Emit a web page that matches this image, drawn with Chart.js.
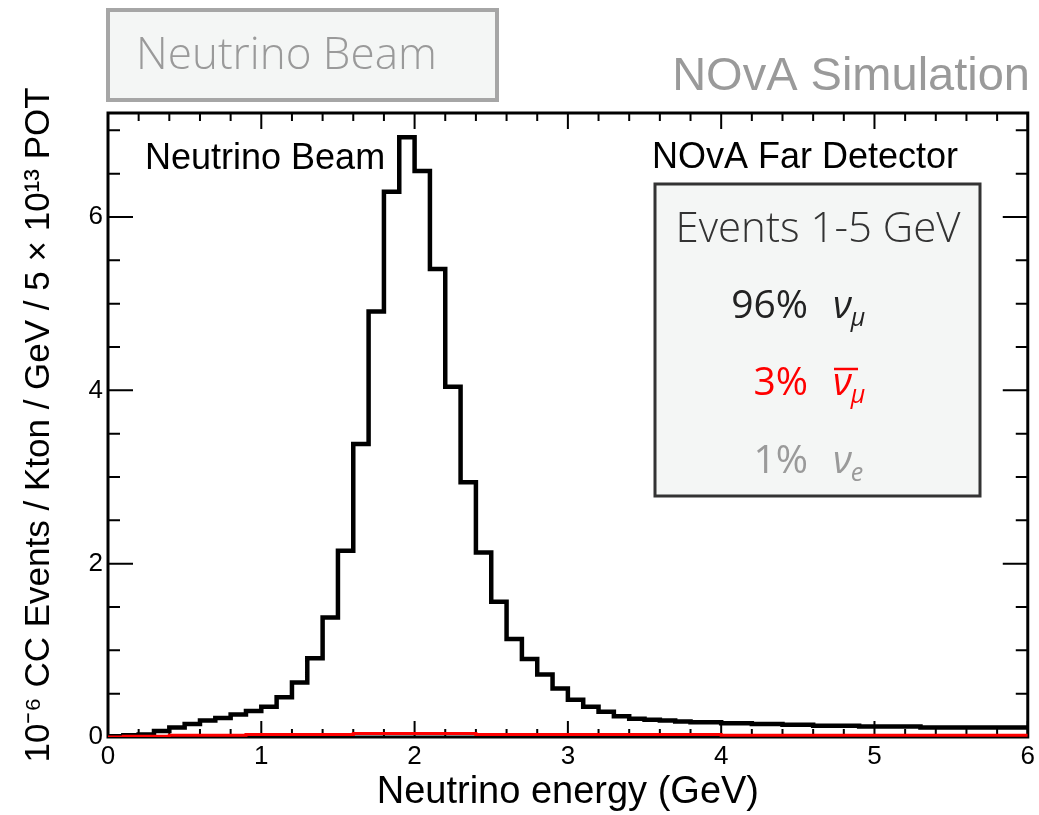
<!DOCTYPE html>
<html lang="en">
<head>
  <meta charset="UTF-8">
  <title>NOvA Far Detector - Neutrino Beam</title>
  <script src="https://cdn.jsdelivr.net/npm/chart.js"></script>
  <style>
    body { margin: 0; padding: 0; background: #fff; }
    #wrap { width: 1039px; height: 815px; }
  </style>
</head>
<body>
  <div id="wrap"><canvas id="beamChart" width="1039" height="815"></canvas></div>

  <script>
    // histogram bins: 0.1 GeV wide, starting at 0 GeV
    const binWidth = 0.1;
    const numuCC = [
      0.01, 0.02, 0.03, 0.07, 0.11, 0.15, 0.19, 0.22, 0.26, 0.30,
      0.35, 0.46, 0.63, 0.91, 1.38, 2.15, 3.38, 4.91, 6.29, 6.92,
      6.53, 5.40, 4.04, 2.94, 2.13, 1.56, 1.13, 0.90, 0.72, 0.56,
      0.43, 0.35, 0.29, 0.24, 0.21, 0.20, 0.19, 0.18, 0.17, 0.17,
      0.16, 0.16, 0.15, 0.15, 0.14, 0.14, 0.13, 0.13, 0.13, 0.12,
      0.12, 0.12, 0.12, 0.11, 0.11, 0.11, 0.11, 0.11, 0.11, 0.11
    ];
    const numubarCC = [
      0.00, 0.01, 0.01, 0.01, 0.02, 0.02, 0.02, 0.02, 0.02, 0.03,
      0.03, 0.03, 0.03, 0.03, 0.03, 0.03, 0.04, 0.04, 0.04, 0.04,
      0.04, 0.04, 0.04, 0.04, 0.03, 0.03, 0.03, 0.03, 0.03, 0.03,
      0.03, 0.03, 0.03, 0.03, 0.03, 0.03, 0.03, 0.03, 0.03, 0.03,
      0.02, 0.02, 0.02, 0.02, 0.02, 0.02, 0.02, 0.02, 0.02, 0.02,
      0.02, 0.02, 0.02, 0.02, 0.02, 0.02, 0.02, 0.02, 0.02, 0.02
    ];
    const xTicks = [0, 1, 2, 3, 4, 5, 6];
    const yTicks = [0, 2, 4, 6];

    // text in the inset box
    const rowPercents = ['96%', '3%', '1%'];
    const rowFlavours = ['μ', 'μ', 'e'];
    const rowAnti = [false, true, false];
    const rowColors = ['#222222', '#ff0000', '#9a9a9a'];

    // turn bin contents into step points (left edges + closing edge)
    function toSteps(values) {
      const pts = values.map((v, i) => ({ x: i * binWidth, y: v }));
      pts.push({ x: values.length * binWidth, y: values[values.length - 1] });
      return pts;
    }

    const sans = '"Liberation Sans", Arial, sans-serif';
    const light = '"Open Sans", "Noto Sans", sans-serif';

    // ROOT-like frame with inward ticks on all four sides
    const rootFrame = {
      id: 'rootFrame',
      beforeDatasetsDraw(chart) {
        const { ctx, chartArea: a, scales: { x, y } } = chart;
        ctx.save();
        ctx.strokeStyle = '#000';
        ctx.lineWidth = 2;
        ctx.beginPath();
        for (let i = 0; i <= 30; i++) {
          const px = x.getPixelForValue(i * 0.2);
          const len = i % 5 === 0 ? 16 : 8;
          ctx.moveTo(px, a.bottom); ctx.lineTo(px, a.bottom - len);
          ctx.moveTo(px, a.top); ctx.lineTo(px, a.top + len);
        }
        for (let i = 0; i <= 14; i++) {
          const py = y.getPixelForValue(i * 0.5);
          const len = i % 4 === 0 ? 25 : 12;
          ctx.moveTo(a.left, py); ctx.lineTo(a.left + len, py);
          ctx.moveTo(a.right, py); ctx.lineTo(a.right - len, py);
        }
        ctx.stroke();
        ctx.lineWidth = 3;
        ctx.strokeRect(a.left, a.top, a.right - a.left, a.bottom - a.top);
        ctx.restore();
      },
      afterDraw(chart) {
        const { ctx } = chart;
        ctx.save();

        // top-left title box
        ctx.fillStyle = '#f4f6f5';
        ctx.fillRect(108, 10, 389, 90);
        ctx.strokeStyle = '#a6a6a6';
        ctx.lineWidth = 4;
        ctx.strokeRect(108, 10, 389, 90);
        ctx.fillStyle = '#9a9a9a';
        ctx.font = '300 44px ' + light;
        ctx.textBaseline = 'alphabetic';
        ctx.textAlign = 'left';
        ctx.fillText('Neutrino Beam', 136, 69);

        // NOvA Simulation tag
        ctx.font = '47px ' + sans;
        ctx.textAlign = 'right';
        ctx.fillText('NOvA Simulation', 1030, 90);

        // labels inside the frame
        ctx.fillStyle = '#000';
        ctx.font = '36px ' + sans;
        ctx.textAlign = 'left';
        ctx.fillText('Neutrino Beam', 145, 169);
        ctx.textAlign = 'right';
        ctx.fillText('NOvA Far Detector', 958, 168);

        // inset box
        ctx.fillStyle = '#f4f6f5';
        ctx.fillRect(655, 184, 325, 312);
        ctx.strokeStyle = '#333';
        ctx.lineWidth = 3;
        ctx.strokeRect(655, 184, 325, 312);

        ctx.fillStyle = '#333';
        ctx.font = '300 42px ' + light;
        ctx.textAlign = 'center';
        ctx.fillText('Events 1-5 GeV', 818, 242);

        const baselines = [318, 395, 473];
        rowPercents.forEach((pct, i) => {
          const yb = baselines[i];
          ctx.fillStyle = rowColors[i];
          ctx.strokeStyle = rowColors[i];
          ctx.textAlign = 'right';
          ctx.font = '39px ' + light;
          ctx.fillText(pct, 808, yb);
          ctx.textAlign = 'left';
          ctx.font = 'italic 38px ' + light;
          ctx.fillText('ν', 833, yb);
          const w = ctx.measureText('ν').width;
          ctx.font = 'italic 25px ' + light;
          ctx.fillText(rowFlavours[i], 832 + w, yb + 8);
          if (rowAnti[i]) {
            ctx.lineWidth = 2.5;
            ctx.beginPath();
            ctx.moveTo(834, yb - 26);
            ctx.lineTo(858, yb - 26);
            ctx.stroke();
          }
        });
        ctx.restore();
      }
    };

    new Chart(document.getElementById('beamChart'), {
      type: 'line',
      data: {
        datasets: [
          {
            label: 'anti-numu CC',
            data: toSteps(numubarCC),
            stepped: 'before',
            borderColor: '#ff0000',
            borderWidth: 3,
            pointRadius: 0,
            fill: false
          },
          {
            label: 'numu CC',
            data: toSteps(numuCC),
            stepped: 'before',
            borderColor: '#000000',
            borderWidth: 4.5,
            pointRadius: 0,
            fill: false
          }
        ]
      },
      options: {
        responsive: false,
        animation: false,
        layout: { padding: { left: 0, right: 9, top: 113, bottom: 0 } },
        plugins: {
          legend: { display: false },
          tooltip: { enabled: false }
        },
        scales: {
          x: {
            type: 'linear',
            min: 0,
            max: 6,
            grid: { display: false, drawTicks: false },
            border: { display: false },
            afterBuildTicks: s => { s.ticks = xTicks.map(v => ({ value: v })); },
            afterFit: s => { s.height = 78; },
            ticks: {
              color: '#000',
              font: { family: sans, size: 26 },
              padding: 4,
              maxRotation: 0,
              autoSkip: false
            },
            title: {
              display: true,
              text: 'Neutrino energy (GeV)',
              color: '#000',
              font: { family: sans, size: 38 },
              padding: { top: 0, bottom: 0 }
            }
          },
          y: {
            min: 0,
            max: 7.2,
            grid: { display: false, drawTicks: false },
            border: { display: false },
            afterBuildTicks: s => { s.ticks = yTicks.map(v => ({ value: v })); },
            afterFit: s => { s.width = 108; },
            ticks: {
              color: '#000',
              font: { family: sans, size: 26 },
              padding: 5
            },
            title: {
              display: true,
              text: '10⁻⁶ CC Events / Kton / GeV / 5 × 10¹³ POT',
              color: '#000',
              font: { family: sans, size: 35 },
              padding: { top: 18, bottom: 0 }
            }
          }
        }
      },
      plugins: [rootFrame]
    });
  </script>
</body>
</html>
